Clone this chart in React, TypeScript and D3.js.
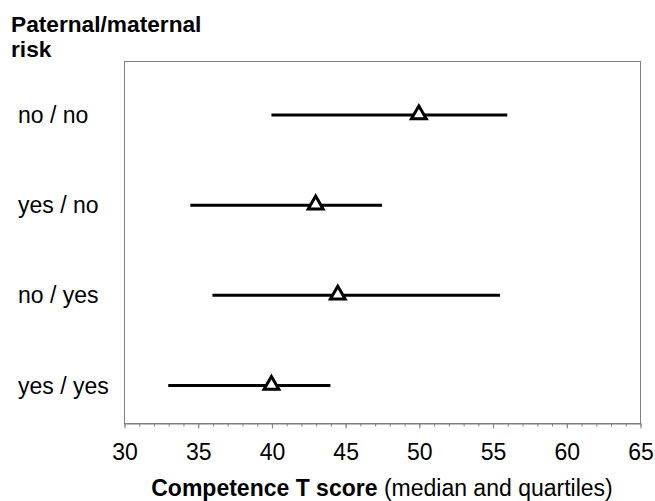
import { useEffect, useRef } from 'react';
import * as d3 from 'd3';

// rows top to bottom: paternal / maternal risk
const groups = ['no / no', 'yes / no', 'no / yes', 'yes / yes'];
const medians = [50, 43, 44.5, 40];
const lowerQuartiles = [40, 34.5, 36, 33];
const upperQuartiles = [56, 47.5, 55.5, 44];
const majorTicks = [30, 35, 40, 45, 50, 55, 60, 65];

export default function App() {
    const svgRef = useRef<SVGSVGElement>(null);
    const width = 655;
    const height = 501;
    const font = 'Arial, "Liberation Sans", sans-serif';

    useEffect(() => {
        if (!svgRef.current) return;
        const svg = d3.select(svgRef.current);
        svg.selectAll('*').remove();

        const left = 124, right = 640, top = 61, bottom = 423;

        const x = d3.scaleLinear().domain([30, 65]).range([left, right]);
        const y = d3.scalePoint<string>().domain(groups).range([115, 385.5]);

        // plot frame
        svg.append('rect')
            .attr('x', left + 0.5)
            .attr('y', top + 0.5)
            .attr('width', right - left)
            .attr('height', bottom - top)
            .attr('fill', 'none')
            .attr('stroke', '#808080')
            .attr('stroke-width', 1);

        // minor ticks
        const minor = svg.append('g')
            .attr('transform', `translate(0.5,${bottom + 0.5})`)
            .call(d3.axisBottom(x).tickValues(d3.range(30, 66, 1)).tickSize(3).tickFormat(() => ''));
        minor.select('.domain').remove();
        minor.selectAll('line').attr('stroke', '#808080');

        // major ticks + labels
        const major = svg.append('g')
            .attr('transform', `translate(0.5,${bottom + 0.5})`)
            .call(d3.axisBottom(x).tickValues(majorTicks).tickSize(5).tickSizeOuter(0).tickPadding(15).tickFormat(d3.format('d')));
        major.select('.domain').attr('stroke', '#808080');
        major.selectAll('line').attr('stroke', '#808080');
        major.selectAll('text')
            .attr('font-family', font)
            .attr('font-size', 23)
            .attr('fill', '#000');

        const rows = groups.map((g, i) => ({ g, med: medians[i], lo: lowerQuartiles[i], hi: upperQuartiles[i] }));

        // quartile ranges
        svg.append('g').selectAll('line')
            .data(rows)
            .enter().append('line')
            .attr('x1', d => x(d.lo))
            .attr('x2', d => x(d.hi))
            .attr('y1', d => y(d.g)!)
            .attr('y2', d => y(d.g)!)
            .attr('stroke', '#000')
            .attr('stroke-width', 3);

        // medians
        const tri = d3.symbol(d3.symbolTriangle, 95);
        svg.append('g').selectAll('path')
            .data(rows)
            .enter().append('path')
            .attr('d', tri)
            .attr('transform', d => `translate(${x(d.med)},${y(d.g)! - 0.5})`)
            .attr('fill', '#fff')
            .attr('stroke', '#000')
            .attr('stroke-width', 3);

        // row labels
        svg.append('g').selectAll('text')
            .data(groups)
            .enter().append('text')
            .attr('x', 18)
            .attr('y', d => y(d)!)
            .attr('dy', '0.35em')
            .attr('font-family', font)
            .attr('font-size', 23)
            .text(d => d);

        // title
        const title = svg.append('text')
            .attr('font-family', font)
            .attr('font-size', 22.7)
            .attr('font-weight', 'bold');
        title.append('tspan').attr('x', 11).attr('y', 32).text('Paternal/maternal');
        title.append('tspan').attr('x', 11).attr('y', 57).text('risk');

        // x label
        const xl = svg.append('text')
            .attr('x', (left + right) / 2)
            .attr('y', 496)
            .attr('text-anchor', 'middle')
            .attr('font-family', font)
            .attr('font-size', 23);
        xl.append('tspan').attr('font-weight', 'bold').text('Competence T score');
        xl.append('tspan').text(' (median and quartiles)');
    }, []);

    return (
        <svg ref={svgRef} width={width} height={height}
            style={{ position: 'absolute', left: 0, top: 0, background: '#fff' }} />
    );
}
